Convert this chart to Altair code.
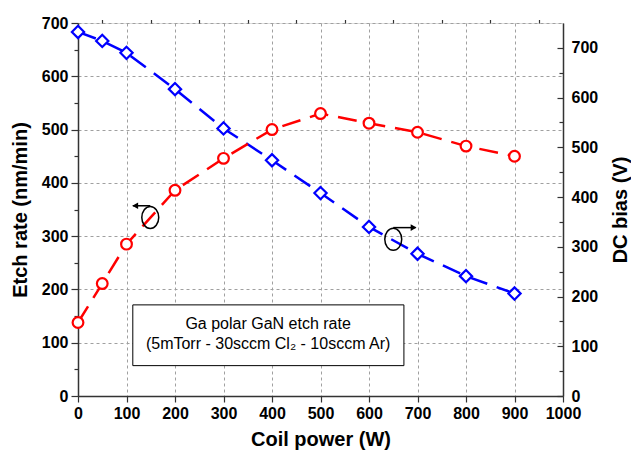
import altair as alt
import pandas as pd

# ---- data ----
power = [0, 50, 100, 200, 300, 400, 500, 600, 700, 800, 900]
etch_rate = [138, 211, 285, 386, 446, 500, 530, 512, 495, 469, 450]
dc_bias = [732, 714, 690, 617, 538, 474, 408, 340, 286, 241, 206]

x_ticks = list(range(0, 1001, 100))
x_minor = list(range(50, 1000, 100))
left_ticks = list(range(0, 701, 100))
left_minor = list(range(50, 700, 100))
right_ticks = list(range(0, 701, 100))
right_minor = list(range(50, 700, 100))

# annotation positions (data units: x = power, y = etch-rate scale)
box_x = [113]
box_x2 = [672]
box_y = [57]
box_y2 = [171]
box_lines = ["Ga polar GaN etch rate", "(5mTorr - 30sccm Cl\u2082 - 10sccm Ar)"]
box_line_x = [392, 392]
box_line_y = [135, 97]
ell_x = [149, 650]
ell_y = [335, 294]
arrow_x = [149, 650]
arrow_x2 = [113, 696]
arrow_y = [357, 316]
head_x = [118, 692]
head_shape = ["triangle-left", "triangle-right"]

FONT = "Liberation Sans"
AX = "#333333"
W, H = 485, 373

df = pd.DataFrame({"power": power, "etch": etch_rate, "bias": dc_bias})
box_df = pd.DataFrame({"x": box_x, "x2": box_x2, "y": box_y, "y2": box_y2})
txt_df = pd.DataFrame({"x": box_line_x, "y": box_line_y, "t": box_lines})
ell_df = pd.DataFrame({"x": ell_x, "y": ell_y})
arr_df = pd.DataFrame({"x": arrow_x, "x2": arrow_x2, "y": arrow_y})
head_df = pd.DataFrame({"x": head_x, "y": arrow_y, "s": head_shape})

xs = alt.Scale(domain=[0, 1000], nice=False, zero=False)
ls = alt.Scale(domain=[0, 700], nice=False, zero=False)
rs = alt.Scale(domain=[0, 750], nice=False, zero=False)

x_main_axis = alt.Axis(values=x_ticks, grid=True, gridDash=[3, 3], gridColor="#a0a0a0",
                       gridWidth=1, tickSize=6, tickColor=AX, tickWidth=1.2, domainColor=AX,
                       domainWidth=1.5, labelFont=FONT, labelFontSize=16, labelFontWeight="bold",
                       labelColor="black", labelPadding=3, labelFlush=False, title="Coil power (W)",
                       titleFont=FONT, titleFontSize=20, titleFontWeight="bold", titleColor="black",
                       titlePadding=8, format="d")
x_minor_axis = alt.Axis(values=x_minor, grid=False, labels=False, domain=False, tickSize=3.5,
                        tickColor=AX, tickWidth=1.2, title=None)
left_axis = alt.Axis(values=left_ticks, grid=True, gridDash=[3, 3], gridColor="#a0a0a0",
                     gridWidth=1, tickSize=7, tickColor=AX, tickWidth=1.2, domainColor=AX,
                     domainWidth=1.5, labelFont=FONT, labelFontSize=16, labelFontWeight="bold",
                     labelColor="black", labelPadding=3, labelFlush=False, title="Etch rate (nm/min)",
                     titleFont=FONT, titleFontSize=20, titleFontWeight="bold", titleColor="black",
                     titlePadding=11, format="d")
left_minor_axis = alt.Axis(values=left_minor, grid=False, labels=False, domain=False, tickSize=4,
                           tickColor=AX, tickWidth=1.2, title=None)
right_axis = alt.Axis(orient="right", values=right_ticks, grid=False, ticks=False, tickSize=0,
                      domainColor=AX, domainWidth=1.5, labelFont=FONT, labelFontSize=16,
                      labelFontWeight="bold", labelColor="black", labelPadding=8, labelFlush=False,
                      title="DC bias (V)", titleFont=FONT, titleFontSize=20, titleFontWeight="bold",
                      titleColor="black", titlePadding=13, titleAngle=270, titleBaseline="top",
                      format="d")
right_in_axis = alt.Axis(orient="left", offset=-W, values=right_ticks, grid=False, labels=False,
                         domain=False, tickSize=6, tickColor=AX, tickWidth=1.2, title=None)
right_in_minor = alt.Axis(orient="left", offset=-W, values=right_minor, grid=False, labels=False,
                          domain=False, tickSize=4, tickColor=AX, tickWidth=1.2, title=None)

base = alt.Chart(df)

red_line = base.mark_line(color="#ff0000", strokeWidth=2.5, strokeDash=[19, 10]).encode(
    x=alt.X("power:Q", scale=xs, axis=x_main_axis),
    y=alt.Y("etch:Q", scale=ls, axis=left_axis),
)
red_pts = base.mark_point(shape="circle", filled=True, fill="white", stroke="#ff0000",
                          strokeWidth=2.2, size=115, opacity=1).encode(
    x=alt.X("power:Q", scale=xs, axis=x_minor_axis),
    y=alt.Y("etch:Q", scale=ls, axis=left_minor_axis),
)
blue_line = base.mark_line(color="#0000ff", strokeWidth=2.5, strokeDash=[19, 10]).encode(
    x=alt.X("power:Q", scale=xs, axis=None),
    y=alt.Y("bias:Q", scale=rs, axis=right_axis),
)
blue_pts = base.mark_point(shape="diamond", filled=True, fill="white", stroke="#0000ff",
                           strokeWidth=2.2, size=150, opacity=1).encode(
    x=alt.X("power:Q", scale=xs, axis=None),
    y=alt.Y("bias:Q", scale=rs, axis=right_in_axis),
)
blue_minor = base.mark_point(opacity=0).encode(
    x=alt.X("power:Q", scale=xs, axis=None),
    y=alt.Y("bias:Q", scale=rs, axis=right_in_minor),
)

box = alt.Chart(box_df).mark_rect(fill="white", stroke="black", strokeWidth=1).encode(
    x=alt.X("x:Q", scale=xs, axis=None), x2="x2:Q",
    y=alt.Y("y:Q", scale=ls, axis=None), y2="y2:Q",
)
box_text = alt.Chart(txt_df).mark_text(font=FONT, fontSize=16, color="black", align="center",
                                       baseline="middle").encode(
    x=alt.X("x:Q", scale=xs, axis=None),
    y=alt.Y("y:Q", scale=ls, axis=None),
    text="t:N",
)
ELLIPSE = "M -0.77 0 A 0.77 1 0 1 1 0.77 0 A 0.77 1 0 1 1 -0.77 0 Z"
ellipses = alt.Chart(ell_df).mark_point(shape=ELLIPSE, size=484, filled=False, stroke="black",
                                        strokeWidth=1.5, opacity=1).encode(
    x=alt.X("x:Q", scale=xs, axis=None),
    y=alt.Y("y:Q", scale=ls, axis=None),
)
shafts = alt.Chart(arr_df).mark_rule(color="black", strokeWidth=1.5).encode(
    x=alt.X("x:Q", scale=xs, axis=None), x2="x2:Q",
    y=alt.Y("y:Q", scale=ls, axis=None),
)
heads = alt.Chart(head_df).mark_point(filled=True, color="black", size=45, opacity=1).encode(
    x=alt.X("x:Q", scale=xs, axis=None),
    y=alt.Y("y:Q", scale=ls, axis=None),
    shape=alt.Shape("s:N", scale=None, legend=None),
)

chart = alt.layer(
    box, box_text, blue_line, red_line, red_pts, blue_pts, blue_minor, ellipses, shafts, heads
).resolve_scale(x="independent", y="independent").properties(
    width=W, height=H,
    autosize=alt.AutoSizeParams(type="none"),
    padding={"left": 70, "top": 15, "right": 68, "bottom": 54},
).configure_view(stroke=None).configure(background="white")

chart.save("out.html", embed_options={"renderer": "svg", "actions": False})
